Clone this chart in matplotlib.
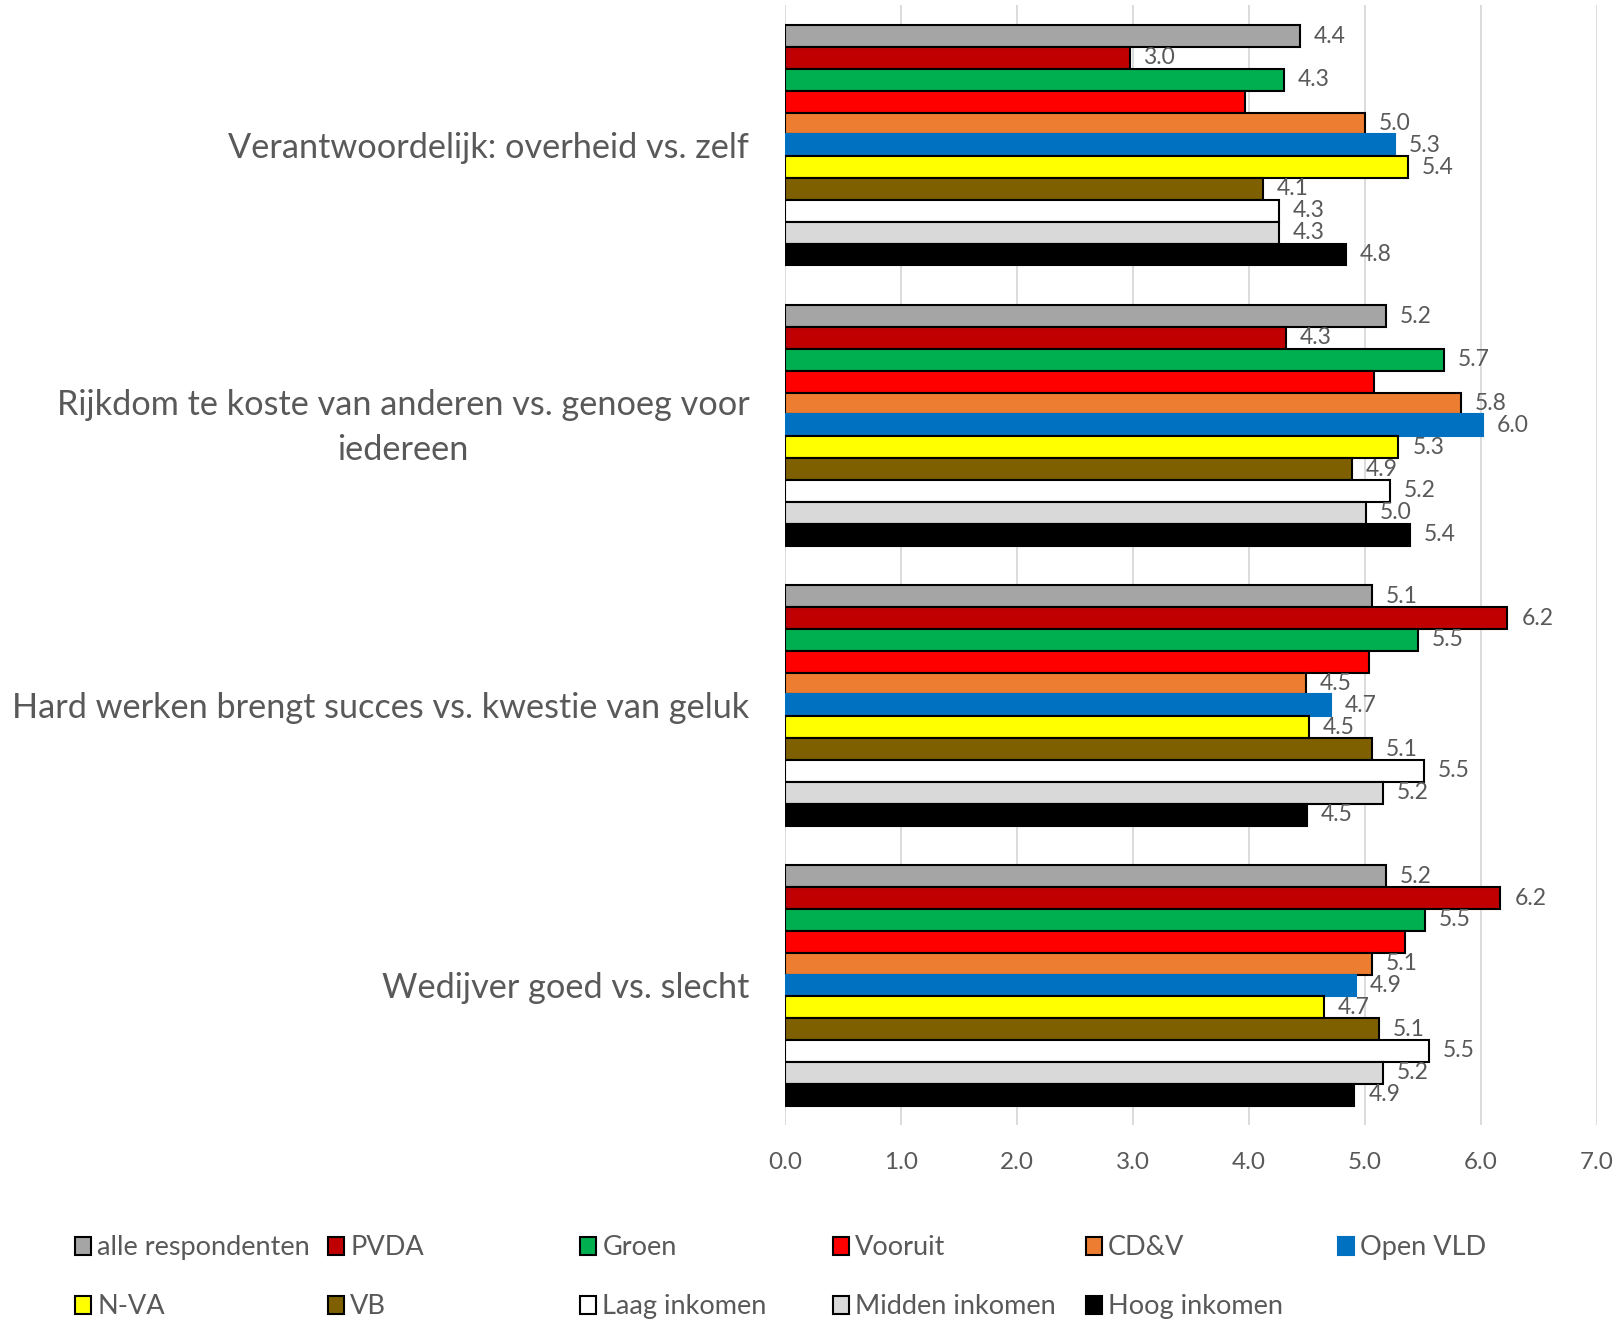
"""
horizontal grouped bar chart: attitudes per party / income group
"""

import numpy as np
import matplotlib.pyplot as plt
import matplotlib.transforms as mtransforms
from matplotlib.patches import Patch

plt.rcParams['font.family'] = ['Lato', 'DejaVu Sans']

categories = ['Verantwoordelijk: overheid vs. zelf',
              'Rijkdom te koste van anderen vs. genoeg voor\niedereen',
              'Hard werken brengt succes vs. kwestie van geluk',
              'Wedijver goed vs. slecht']

series_names = ['alle respondenten', 'PVDA', 'Groen', 'Vooruit', 'CD&V',
                'Open VLD', 'N-VA', 'VB', 'Laag inkomen', 'Midden inkomen',
                'Hoog inkomen']

alle = [4.44, 5.18, 5.06, 5.18]
pvda = [2.97, 4.32, 6.23, 6.17]
groen = [4.30, 5.68, 5.46, 5.52]
vooruit = [3.97, 5.08, 5.04, 5.35]
cdv = [5.00, 5.83, 4.49, 5.06]
openvld = [5.26, 6.02, 4.71, 4.92]
nva = [5.37, 5.29, 4.52, 4.65]
vb = [4.12, 4.89, 5.06, 5.12]
laag = [4.26, 5.22, 5.51, 5.55]
midden = [4.26, 5.01, 5.16, 5.16]
hoog = [4.84, 5.39, 4.50, 4.91]

values = [alle, pvda, groen, vooruit, cdv, openvld, nva, vb, laag, midden, hoog]
colors = ['#A5A5A5', '#C00000', '#00B050', '#FF0000', '#ED7D31', '#0070C0',
          '#FFFF00', '#7F6000', '#FFFFFF', '#D9D9D9', '#000000']
edges = ['black'] * 11
edges[5] = '#0070C0'
show_label = [True] * 11
show_label[3] = False  # Vooruit has no data labels

TXT = '#595959'

fig = plt.figure(figsize=(16.16, 13.21), dpi=100)
ax = fig.add_axes([0.486, 0.148, 0.502, 0.848])

n = len(values)
h = 0.078
base = np.arange(len(categories))
for i, (vals, name) in enumerate(zip(values, series_names)):
    pos = base + (i - (n - 1) / 2) * h
    bars = ax.barh(pos, vals, height=h, color=colors[i], edgecolor=edges[i],
                   linewidth=1.5, label=name, zorder=3)
    if show_label[i]:
        for b, v in zip(bars, vals):
            ax.annotate('{:.1f}'.format(v), (v, b.get_y() + h / 2),
                        xytext=(10, 0), textcoords='offset points',
                        ha='left', va='center', fontsize=16.5, color=TXT)

ax.set_xlim(0, 7)
ax.set_ylim(3.5, -0.5)
ax.set_xticks(np.arange(0, 7.5, 1.0))
ax.set_xticklabels(['{:.1f}'.format(t) for t in np.arange(0, 7.5, 1.0)])
ax.set_yticks(base)
ax.set_yticklabels(categories, multialignment='center', linespacing=1.5)
ax.tick_params(axis='x', length=0, pad=19, labelsize=17.5, labelcolor=TXT)
ax.tick_params(axis='y', length=0, pad=26, labelsize=24.7, labelcolor=TXT)
ax.grid(axis='x', color='#D9D9D9', linewidth=1.3, zorder=0)
for s in ax.spines.values():
    s.set_visible(False)

# two-line label sits a little higher in the original
lab = ax.get_yticklabels()[1]
lab.set_transform(lab.get_transform() +
                  mtransforms.ScaledTranslation(0, 5 / 72, fig.dpi_scale_trans))

# legend laid out like the original grid: 6 equal columns, 2 rows
handles = [Patch(facecolor=colors[i], edgecolor=edges[i], linewidth=1.5)
           for i in range(n)]
col_x = [0.0465, 0.203, 0.359, 0.5155, 0.672, 0.828]
row_y = [0.0553, 0.0106]
for i in range(n):
    r, c = divmod(i, 6)
    fig.legend([handles[i]], [series_names[i]], loc='center left',
               bbox_to_anchor=(col_x[c], row_y[r]), frameon=False,
               fontsize=19.5, handlelength=0.6, handleheight=0.6,
               handletextpad=0.22, borderpad=0, borderaxespad=0,
               labelcolor=TXT)

fig.savefig('out.png', dpi=100)
